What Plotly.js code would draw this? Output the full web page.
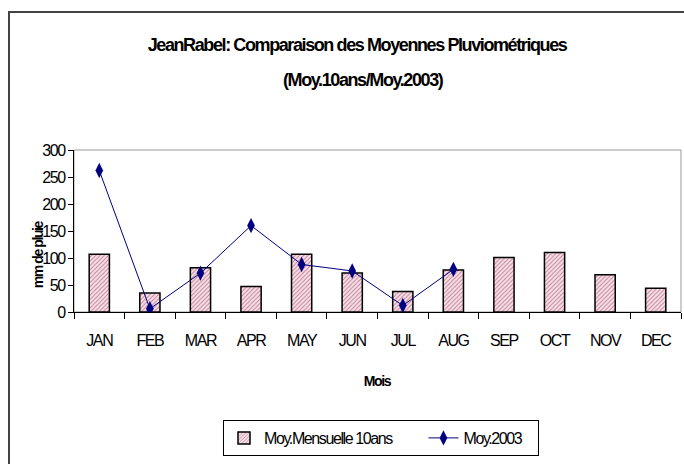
<!DOCTYPE html>
<html><head><meta charset="utf-8">
<script src="https://cdn.plot.ly/plotly-3.0.1.min.js"></script>
<style>
html,body{margin:0;padding:0;background:#fff;}
#chart{width:684px;height:464px;}
.main-svg text{letter-spacing:-1.4px;}
</style>
</head><body><div id="chart"></div>
<script>
const months = ["JAN","FEB","MAR","APR","MAY","JUN","JUL","AUG","SEP","OCT","NOV","DEC"];
const moyMensuelle10ans = [107, 35, 82, 47, 107, 72, 38, 78, 101, 110, 69, 44];
const months2003 = ["JAN","FEB","MAR","APR","MAY","JUN","JUL","AUG"];
const moy2003 = [262, 6, 72, 160, 88, 76, 12, 79];
const seriesNames = ["Moy.Mensuelle 10ans", "Moy.2003"];
const titleLines = ["JeanRabel: Comparaison des Moyennes Pluviométriques", "(Moy.10ans/Moy.2003)"];

const FONT = "'Liberation Sans Narrow', 'Liberation Sans', Arial, sans-serif";
const L = 74, R = 681, T = 150, B = 312;
const W = R - L, H = B - T;
const px = x => (x - L) / W;
const py = y => (B - y) / H;

const traces = [
  {
    type: "bar", x: months, y: moyMensuelle10ans, name: seriesNames[0],
    width: 0.4,
    marker: {
      color: "#f5e1e8",
      line: {color: "#000", width: 1.5},
      pattern: {shape: "/", fgcolor: "#c37a92", bgcolor: "#f5e1e8", size: 3, solidity: 0.3}
    }
  },
  {
    type: "scatter", mode: "lines+markers", x: months2003, y: moy2003, name: seriesNames[1],
    line: {color: "#000080", width: 1},
    marker: {symbol: "diamond-tall", size: 11, color: "#000080"}
  }
];

const layout = {
  width: 684, height: 464,
  margin: {l: L, r: 684 - R, t: T, b: 464 - B},
  paper_bgcolor: "#fff", plot_bgcolor: "#fff",
  showlegend: true,
  font: {family: FONT, color: "#000", size: 16},
  xaxis: {
    type: "category", categoryorder: "array", categoryarray: months,
    range: [-0.5, 11.5],
    showline: true, linecolor: "#000", linewidth: 1,
    ticks: "outside", tickson: "boundaries", ticklen: 6, tickcolor: "#000",
    showgrid: false, zeroline: false,
    tickfont: {family: FONT, size: 16, color: "#000"},
    ticklabelstandoff: 14
  },
  yaxis: {
    range: [0, 300], tickvals: [0, 50, 100, 150, 200, 250, 300],
    showline: true, linecolor: "#000", linewidth: 1,
    ticks: "outside", ticklen: 5, tickcolor: "#000",
    showgrid: false, zeroline: false,
    tickfont: {family: FONT, size: 16, color: "#000"}
  },
  legend: {
    orientation: "h", x: px(381), y: py(438), xanchor: "center", yanchor: "middle",
    bordercolor: "#000", borderwidth: 1, bgcolor: "#fff",
    font: {family: FONT, size: 16, color: "#000"},
    itemwidth: 30, tracegroupgap: 0
  },
  shapes: [
    {type: "rect", xref: "paper", yref: "paper", x0: 0, x1: 1, y0: 0, y1: 1,
     line: {color: "#999", width: 1}, layer: "below"},
    {type: "rect", xref: "paper", yref: "paper", x0: px(9), x1: px(720), y0: py(12), y1: py(520),
     line: {color: "#444", width: 2}, layer: "below"}
  ],
  annotations: [
    {text: "<b>" + titleLines[0] + "</b>", xref: "paper", yref: "paper", x: px(357), y: py(45),
     xanchor: "center", yanchor: "middle", showarrow: false, font: {family: FONT, size: 18}},
    {text: "<b>" + titleLines[1] + "</b>", xref: "paper", yref: "paper", x: px(362), y: py(80),
     xanchor: "center", yanchor: "middle", showarrow: false, font: {family: FONT, size: 18}},
    {text: "<b>mm de pluie</b>", xref: "paper", yref: "paper", x: px(38), y: py(255),
     xanchor: "center", yanchor: "middle", textangle: -90, showarrow: false, font: {family: FONT, size: 14}},
    {text: "<b>Mois</b>", xref: "paper", yref: "paper", x: px(377), y: py(381),
     xanchor: "center", yanchor: "middle", showarrow: false, font: {family: FONT, size: 14}}
  ]
};

Plotly.newPlot("chart", traces, layout, {displayModeBar: false, staticPlot: true});
</script></body></html>
